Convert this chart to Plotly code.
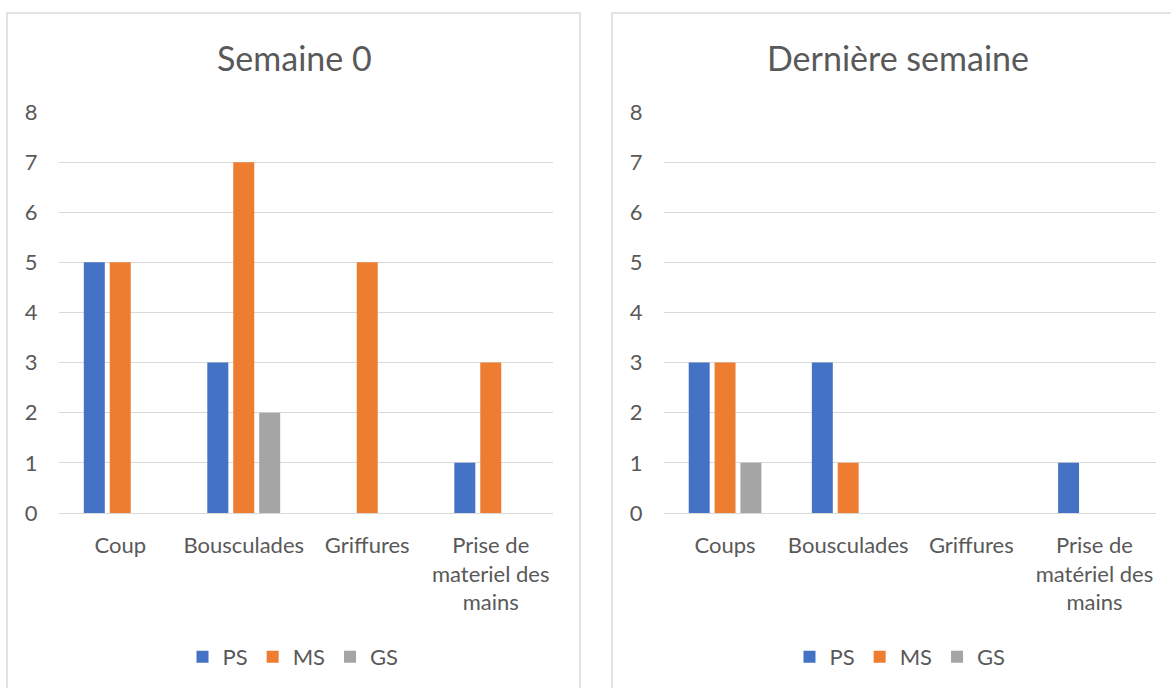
import plotly.graph_objects as go

W, H = 1171, 688

# ---- data ----
categories_s0 = ["Coup", "Bousculades", "Griffures", "Prise de<br>materiel des<br>mains"]
ps_s0 = [5, 3, 0, 1]
ms_s0 = [5, 7, 5, 3]
gs_s0 = [0, 2, 0, 0]

categories_last = ["Coups", "Bousculades", "Griffures", "Prise de<br>matériel des<br>mains"]
ps_last = [3, 3, 0, 1]
ms_last = [3, 1, 0, 0]
gs_last = [1, 0, 0, 0]

series_names = ["PS", "MS", "GS"]
colors = ["#4472C4", "#ED7D31", "#A5A5A5"]
y_ticks = [0, 1, 2, 3, 4, 5, 6, 7, 8]

FONT = "Lato"
TXT = "#595959"
GRID = "#D9D9D9"

def px(x):
    return x / W

def py(y):
    return 1 - y / H

fig = go.Figure()

for name, col, vals in zip(series_names, colors, [ps_s0, ms_s0, gs_s0]):
    fig.add_trace(go.Bar(x=categories_s0, y=vals, name=name, marker_color=col,
                         marker_line_width=0, xaxis="x", yaxis="y", legend="legend"))
for name, col, vals in zip(series_names, colors, [ps_last, ms_last, gs_last]):
    fig.add_trace(go.Bar(x=categories_last, y=vals, name=name, marker_color=col,
                         marker_line_width=0, xaxis="x2", yaxis="y2", legend="legend2"))

ydom = [py(513), py(112)]
xaxis_common = dict(showgrid=False, zeroline=False, showline=False, ticks="",
                    tickfont=dict(family=FONT, size=22, color=TXT), ticklabelstandoff=17,
                    fixedrange=True, tickangle=0, automargin=False)
yaxis_common = dict(range=[0, 8], tickvals=y_ticks, showgrid=True, gridcolor=GRID, gridwidth=1,
                    zeroline=True, zerolinecolor=GRID, zerolinewidth=1, showline=False, ticks="",
                    tickfont=dict(family=FONT, size=22, color=TXT), ticklabelstandoff=20,
                    fixedrange=True, automargin=False)

legend_common = dict(orientation="h", xanchor="center", yanchor="middle",
                     font=dict(family=FONT, size=22, color=TXT), bgcolor="rgba(0,0,0,0)",
                     itemwidth=30, traceorder="normal")

fig.update_layout(
    width=W, height=H,
    margin=dict(l=0, r=0, t=0, b=0, pad=0, autoexpand=False),
    paper_bgcolor="white", plot_bgcolor="white",
    barmode="group", bargap=0.37, bargroupgap=0.19,
    xaxis=dict(domain=[px(58.5), px(552.5)], anchor="y", **xaxis_common),
    yaxis=dict(domain=ydom, anchor="x", **yaxis_common),
    xaxis2=dict(domain=[px(663.5), px(1156)], anchor="y2", **xaxis_common),
    yaxis2=dict(domain=ydom, anchor="x2", **yaxis_common),
    legend=dict(x=px(293), y=py(657), **legend_common),
    legend2=dict(x=px(900), y=py(657), **legend_common),
    showlegend=True,
    shapes=[
        dict(type="rect", xref="paper", yref="paper", x0=px(7), x1=px(580), y0=-0.02, y1=py(13),
             line=dict(color=GRID, width=1.5), fillcolor="rgba(0,0,0,0)", layer="below"),
        dict(type="rect", xref="paper", yref="paper", x0=px(612), x1=1.03, y0=-0.02, y1=py(13),
             line=dict(color=GRID, width=1.5), fillcolor="rgba(0,0,0,0)", layer="below"),
    ],
    annotations=[
        dict(text="Semaine 0", xref="paper", yref="paper", x=px(294), y=py(57),
             xanchor="center", yanchor="middle", showarrow=False,
             font=dict(family=FONT, size=34, color=TXT)),
        dict(text="Dernière semaine", xref="paper", yref="paper", x=px(898), y=py(57),
             xanchor="center", yanchor="middle", showarrow=False,
             font=dict(family=FONT, size=34, color=TXT)),
    ],
)

fig.write_html(
    "out.html",
    config={"responsive": False, "displayModeBar": False},
    post_script="document.body.style.margin='0';document.body.style.overflow='hidden';",
)
